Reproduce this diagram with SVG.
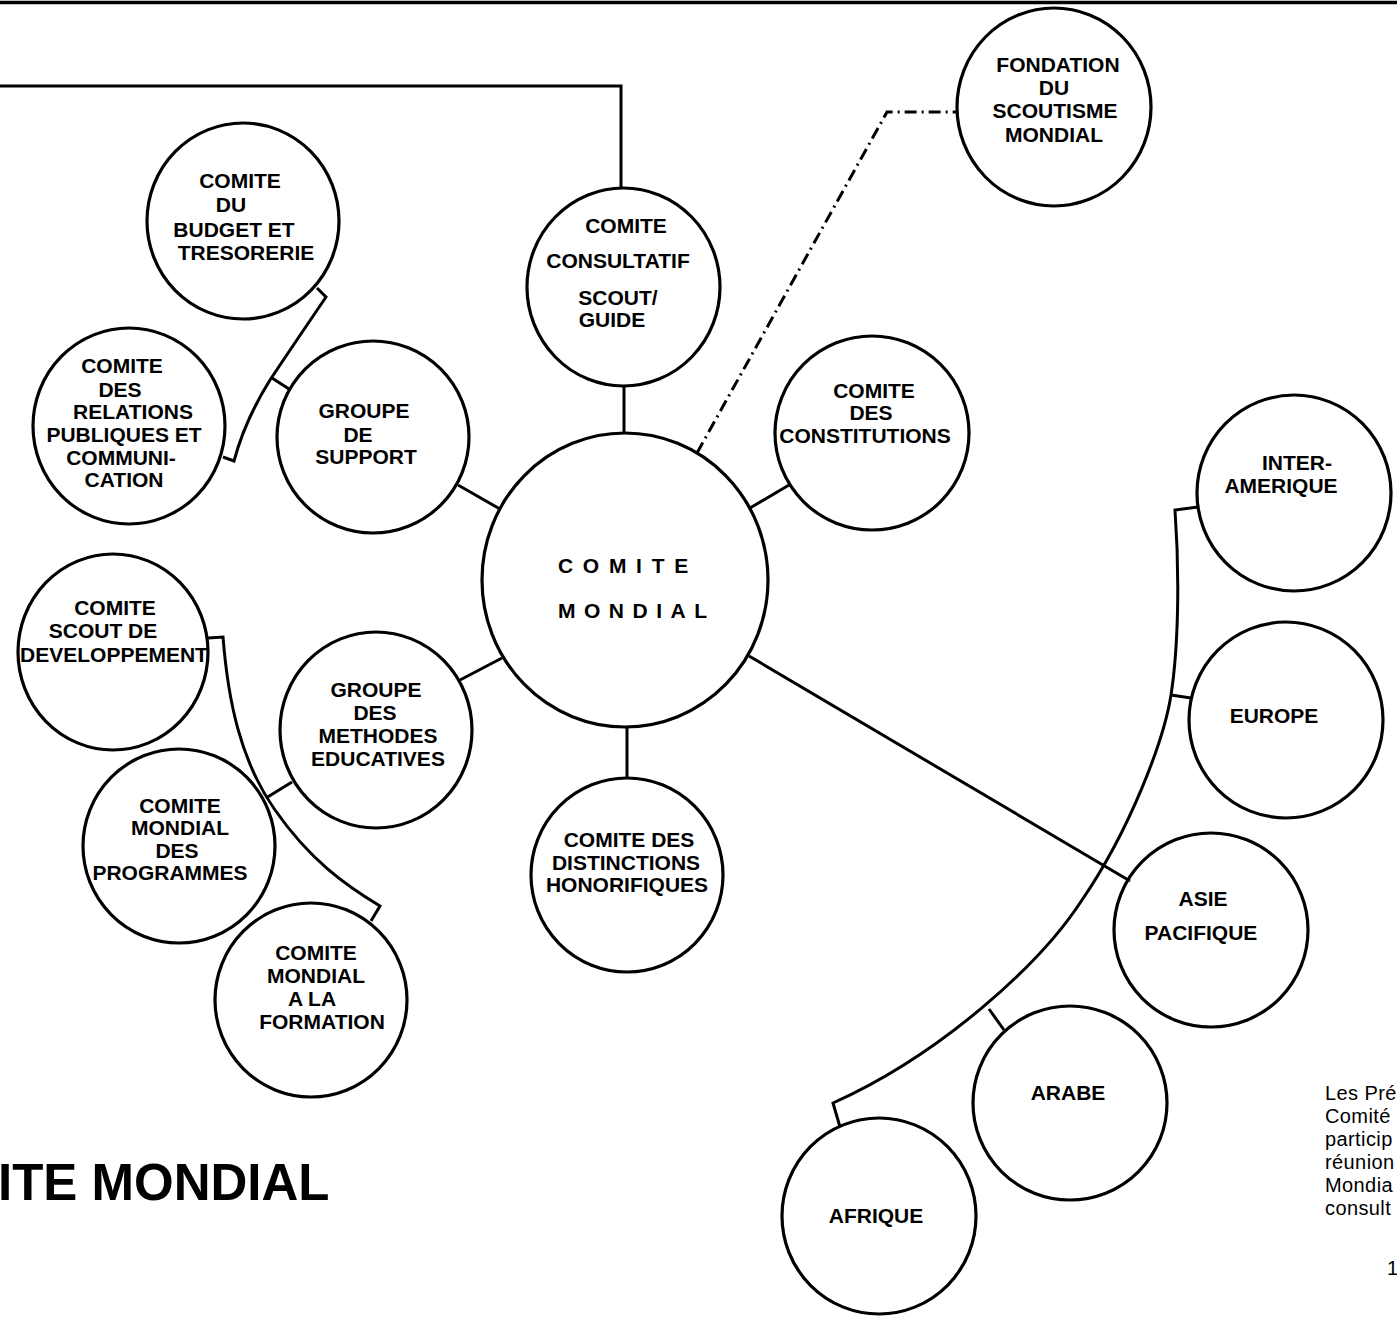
<svg xmlns="http://www.w3.org/2000/svg" width="1397" height="1321" viewBox="0 0 1397 1321">
<style>
.n ellipse{fill:none;stroke:#000;stroke-width:3.2}
.n text{font-family:"Liberation Sans",Arial,sans-serif;font-weight:bold;font-size:21px;text-anchor:middle;fill:#000}
#connectors path,#connectors line{fill:none;stroke:#000;stroke-width:3;stroke-linejoin:miter}
.dd{stroke-dasharray:12 5 2 5}
.note{font-family:"Liberation Sans",Arial,sans-serif;font-size:20px;letter-spacing:0.4px;fill:#000}
.title{font-family:"Liberation Sans",Arial,sans-serif;font-weight:bold;font-size:51px;fill:#000}
</style>
<rect width="1397" height="1321" fill="#fff"/>
<line x1="0" y1="2.5" x2="1397" y2="2.5" stroke="#000" stroke-width="3.5"/>

<g id="connectors">
<path d="M0,86 L621,86 L621,188"/>
<line x1="624" y1="387" x2="624" y2="433"/>
<path class="dd" d="M697,453 L887,112 L958,112"/>
<line x1="458" y1="485" x2="500" y2="509"/>
<line x1="789" y1="485" x2="750" y2="508"/>
<line x1="460" y1="680" x2="502" y2="658"/>
<line x1="627" y1="728" x2="627" y2="778"/>
<line x1="749" y1="656" x2="1130" y2="881"/>
<path d="M317,288 L326,297 Q290,350 270,380 Q245,420 234,461 L223,457"/>
<line x1="272" y1="378" x2="289" y2="389"/>
<path d="M208,638 L223,637 C228,700 240,760 275,810 C310,860 345,885 380,906 L371,921"/>
<line x1="292" y1="782" x2="266" y2="798"/>
<path d="M1198,507 L1175,510 C1180,580 1178,650 1171,695 C1164,740 1130,830 1082,900 C1040,965 940,1055 833,1103 L840,1127"/>
<line x1="1171" y1="695" x2="1191" y2="698"/>
<line x1="989" y1="1009" x2="1004" y2="1030"/>
</g>

<g id="budget" class="n"><ellipse cx="243" cy="221" rx="96" ry="98"/>
<text x="240" y="188">COMITE</text><text x="231" y="212">DU</text><text x="234" y="237">BUDGET ET</text><text x="246" y="260">TRESORERIE</text></g>

<g id="relations" class="n"><ellipse cx="129" cy="426" rx="96" ry="98"/>
<text x="122" y="373">COMITE</text><text x="120" y="397">DES</text><text x="133" y="419">RELATIONS</text><text x="124" y="442">PUBLIQUES ET</text><text x="121" y="465">COMMUNI-</text><text x="124" y="487">CATION</text></g>

<g id="support" class="n"><ellipse cx="373" cy="437" rx="96" ry="96"/>
<text x="364" y="418">GROUPE</text><text x="358" y="442">DE</text><text x="366" y="464">SUPPORT</text></g>

<g id="consultatif" class="n"><ellipse cx="623.5" cy="287" rx="96.5" ry="99"/>
<text x="626" y="233">COMITE</text><text x="618" y="268">CONSULTATIF</text><text x="618" y="305">SCOUT/</text><text x="612" y="327">GUIDE</text></g>

<g id="fondation" class="n"><ellipse cx="1054" cy="107" rx="97" ry="99"/>
<text x="1058" y="72">FONDATION</text><text x="1054" y="95">DU</text><text x="1055" y="118">SCOUTISME</text><text x="1054" y="142">MONDIAL</text></g>

<g id="constitutions" class="n"><ellipse cx="872" cy="433" rx="97" ry="97"/>
<text x="874" y="398">COMITE</text><text x="871" y="420">DES</text><text x="865" y="443">CONSTITUTIONS</text></g>

<g id="comite-mondial" class="n"><ellipse cx="625" cy="580" rx="143" ry="147"/>
<text x="558" y="573" style="text-anchor:start;letter-spacing:9.7px">COMITE</text>
<text x="558" y="618" style="text-anchor:start;letter-spacing:8.5px">MONDIAL</text></g>

<g id="developpement" class="n"><ellipse cx="113" cy="652" rx="95" ry="98"/>
<text x="115" y="615">COMITE</text><text x="103" y="638">SCOUT DE</text><text x="114" y="662">DEVELOPPEMENT</text></g>

<g id="methodes" class="n"><ellipse cx="376" cy="730" rx="96" ry="98"/>
<text x="376" y="697">GROUPE</text><text x="375" y="720">DES</text><text x="378" y="743">METHODES</text><text x="378" y="766">EDUCATIVES</text></g>

<g id="programmes" class="n"><ellipse cx="179" cy="846" rx="96" ry="97"/>
<text x="180" y="813">COMITE</text><text x="180" y="835">MONDIAL</text><text x="177" y="858">DES</text><text x="170" y="880">PROGRAMMES</text></g>

<g id="formation" class="n"><ellipse cx="311" cy="1000" rx="96" ry="97"/>
<text x="316" y="960">COMITE</text><text x="316" y="983">MONDIAL</text><text x="312" y="1006">A LA</text><text x="322" y="1029">FORMATION</text></g>

<g id="distinctions" class="n"><ellipse cx="627" cy="875" rx="96" ry="97"/>
<text x="629" y="847">COMITE DES</text><text x="626" y="870">DISTINCTIONS</text><text x="627" y="892">HONORIFIQUES</text></g>

<g id="interamerique" class="n"><ellipse cx="1294" cy="493" rx="97" ry="98"/>
<text x="1297" y="470">INTER-</text><text x="1281" y="493">AMERIQUE</text></g>

<g id="europe" class="n"><ellipse cx="1286" cy="720" rx="97" ry="98"/>
<text x="1274" y="723">EUROPE</text></g>

<g id="asie" class="n"><ellipse cx="1211" cy="930" rx="97" ry="97"/>
<text x="1203" y="906">ASIE</text><text x="1201" y="940">PACIFIQUE</text></g>

<g id="arabe" class="n"><ellipse cx="1070" cy="1103" rx="97" ry="97"/>
<text x="1068" y="1100">ARABE</text></g>

<g id="afrique" class="n"><ellipse cx="879" cy="1216" rx="97" ry="98"/>
<text x="876" y="1223">AFRIQUE</text></g>

<text class="title" x="-2" y="1200">ITE MONDIAL</text>

<g id="note">
<text class="note" x="1325" y="1100">Les Pré</text>
<text class="note" x="1325" y="1123">Comité</text>
<text class="note" x="1325" y="1146">particip</text>
<text class="note" x="1325" y="1169">réunion</text>
<text class="note" x="1325" y="1192">Mondia</text>
<text class="note" x="1325" y="1215">consult</text>
<text class="note" x="1387" y="1275">1</text>
</g>
</svg>
